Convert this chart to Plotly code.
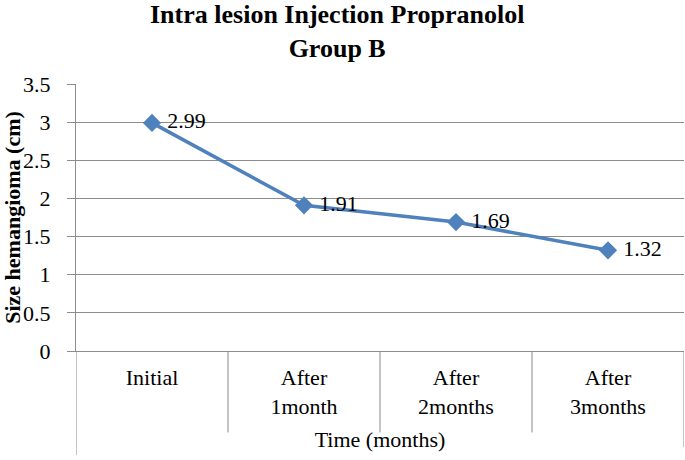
import plotly.graph_objects as go

categories = ["Initial", "After<br>1month", "After<br>2months", "After<br>3months"]
sizes = [2.99, 1.91, 1.69, 1.32]
labels = ["2.99", "1.91", "1.69", "1.32"]
y_ticks = [0, 0.5, 1, 1.5, 2, 2.5, 3, 3.5]
y_tick_text = ["0", "0.5", "1", "1.5", "2", "2.5", "3", "3.5"]

SERIF = "Liberation Serif, Times New Roman, serif"
GRID = "#8c8c8c"
FS = 22

fig = go.Figure()
fig.add_trace(go.Scatter(
    x=categories, y=sizes, mode="lines+markers+text",
    text=labels, texttemplate=" %{text}", textposition="middle right",
    textfont=dict(family=SERIF, size=FS, color="black"),
    line=dict(color="#4F81BD", width=3.5),
    marker=dict(symbol="diamond", size=14, color="#4F81BD"),
    cliponaxis=False, showlegend=False, hoverinfo="skip",
))

# category separators below the axis (Excel-style)
n = len(categories)
for i in range(n + 1):
    depth = -0.39 if i == 0 else (-0.36 if i == n else -0.305)
    fig.add_shape(type="line", xref="x", yref="paper",
                  x0=i - 0.5, x1=i - 0.5, y0=0, y1=depth,
                  line=dict(color=GRID, width=1))

fig.add_annotation(
    text="<b>Intra lesion Injection Propranolol<br>Group B</b>",
    xref="paper", yref="paper", x=0.429, y=1.196,
    xanchor="center", yanchor="middle", showarrow=False, borderpad=0,
    font=dict(family=SERIF, size=26, color="black"),
)

fig.update_layout(
    width=685, height=460,
    margin=dict(l=76, r=1, t=84, b=109),
    paper_bgcolor="white", plot_bgcolor="white",
    font=dict(family=SERIF, size=FS, color="black"),
)
fig.update_xaxes(
    type="category", range=[-0.5, n - 0.5], automargin=False,
    showgrid=False, showline=True, linecolor=GRID, linewidth=1,
    ticks="", tickfont=dict(family=SERIF, size=FS), ticklabelstandoff=7,
    title=dict(text="Time (months)", font=dict(family=SERIF, size=FS), standoff=13),
)
fig.update_yaxes(
    range=[0, 3.5], tickvals=y_ticks, ticktext=y_tick_text, automargin=False,
    showgrid=True, gridcolor=GRID, gridwidth=1,
    showline=True, linecolor=GRID, linewidth=1,
    ticks="outside", ticklen=8, tickcolor=GRID,
    tickfont=dict(family=SERIF, size=FS), ticklabelstandoff=12,
    title=dict(text="<b>Size hemangioma (cm)</b>", font=dict(family=SERIF, size=FS), standoff=2),
    zeroline=False,
)

fig.write_html("out.html", config={"displayModeBar": False},
               post_script="document.body.style.margin='0';document.body.style.overflow='hidden';")
